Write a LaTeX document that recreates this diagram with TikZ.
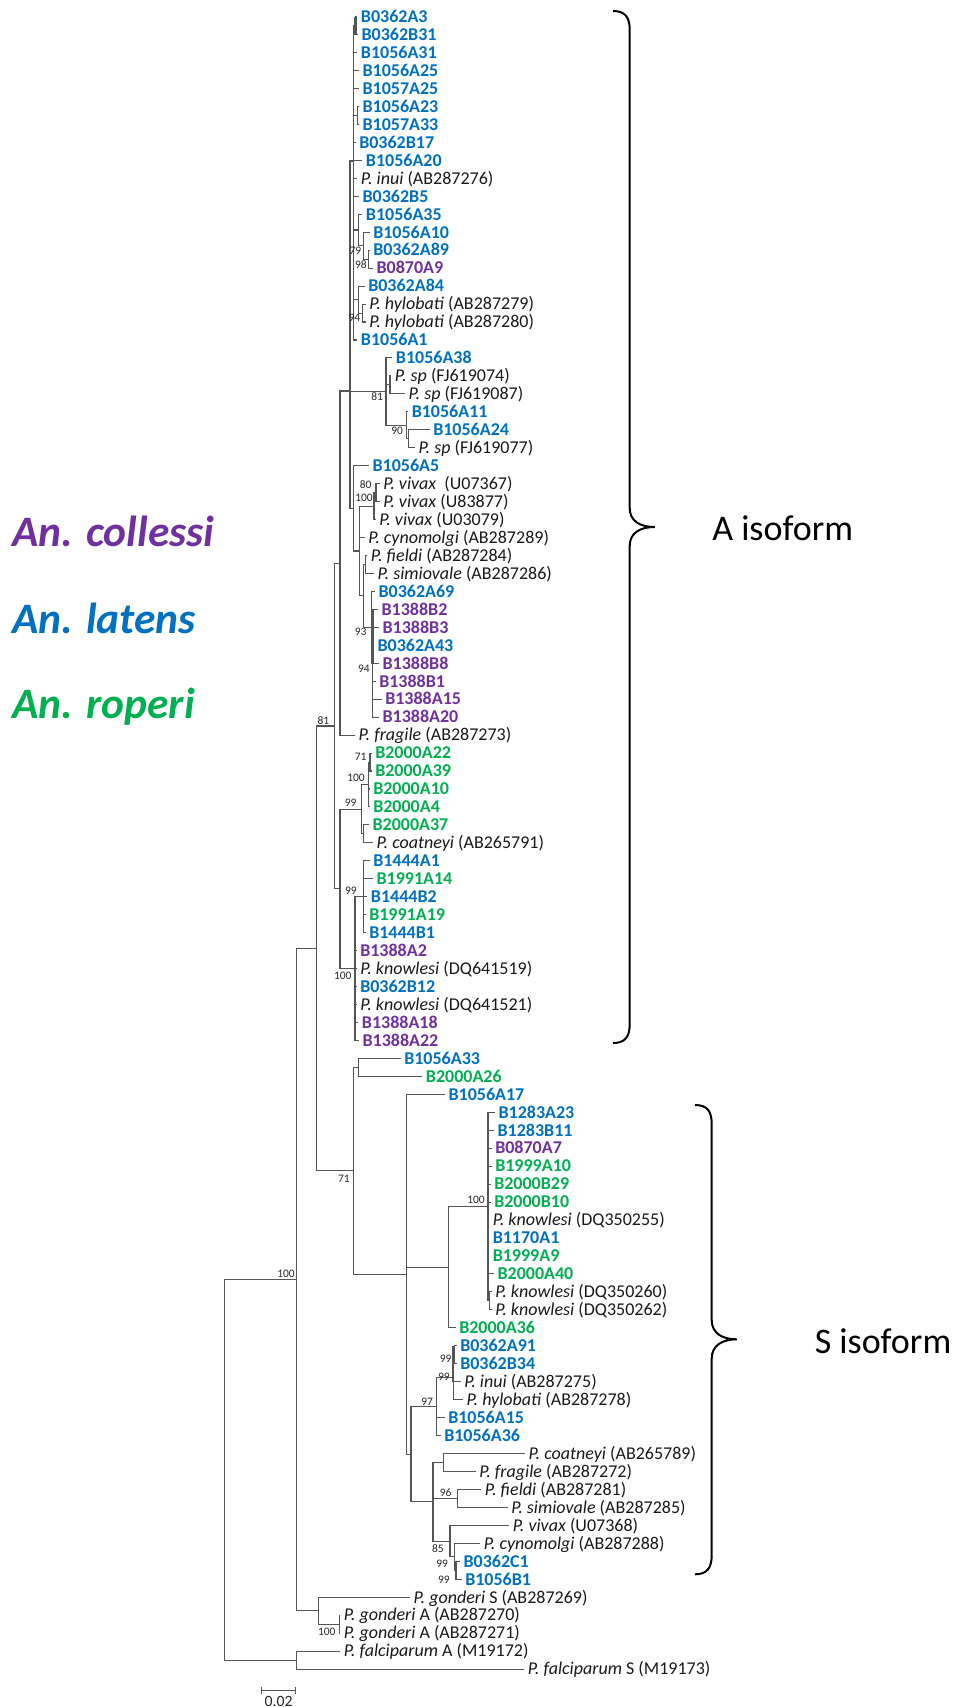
\documentclass[tikz,border=0pt]{standalone}
\usepackage{fontspec}
\setmainfont{Carlito}
\definecolor{lblue}{HTML}{0070C0}
\definecolor{lpurple}{HTML}{7030A0}
\definecolor{lgreen}{HTML}{00B050}
\definecolor{treegray}{HTML}{555555}
\newcommand{\tip}[5]{%
  \coordinate (#1) at (#3,{16.7+17.96*(#2-1)});
  \node[#4] (#1l) at ({#3+3.5},{22.5+17.96*(#2-1)}) {#5};}
\newcommand{\edges}[2]{\foreach \c in {#2} {\draw[br] (#1) |- (\c);}}
\newcommand{\boot}[4]{\node[bs] (#1) at (#2,#3) {#4};}
\tikzset{
  br/.style={draw=treegray, line width=0.8pt},
  thickbar/.style={draw=treegray, line width=1.7pt},
  tb/.style={anchor=base west, inner sep=0pt, text=lblue, font=\fontsize{13.5}{16}\selectfont\bfseries},
  tp/.style={anchor=base west, inner sep=0pt, text=lpurple, font=\fontsize{13.5}{16}\selectfont\bfseries},
  tg/.style={anchor=base west, inner sep=0pt, text=lgreen, font=\fontsize{13.5}{16}\selectfont\bfseries},
  ts/.style={anchor=base west, inner sep=0pt, text=black!90, font=\fontsize{13.5}{16}\selectfont},
  bs/.style={anchor=east, inner sep=0pt, text=black!85, font=\fontsize{8.6}{10}\selectfont},
  bracestyle/.style={draw=black, line width=1.5pt},
  isolab/.style={anchor=base west, inner sep=0pt, font=\fontsize{27}{32}\selectfont},
  legend/.style={anchor=base west, inner sep=0pt, font=\fontsize{32.6}{38}\selectfont\bfseries\itshape},
}
\begin{document}
\begin{tikzpicture}[x=0.75pt,y=-0.75pt]
\useasboundingbox (0,0) rectangle (961,1707);
% ---------- tips ----------
\tip{t1}{1}{357.2}{tb}{B0362A3}
\tip{t2}{2}{357.8}{tb}{B0362B31}
\tip{t3}{3}{357.2}{tb}{B1056A31}
\tip{t4}{4}{358.8}{tb}{B1056A25}
\tip{t5}{5}{358.8}{tb}{B1057A25}
\tip{t6}{6}{358.8}{tb}{B1056A23}
\tip{t7}{7}{358.8}{tb}{B1057A33}
\tip{t8}{8}{355.5}{tb}{B0362B17}
\tip{t9}{9}{362.2}{tb}{B1056A20}
\tip{t10}{10}{357.2}{ts}{\textit{P. inui} (AB287276)}
\tip{t11}{11}{358.8}{tb}{B0362B5}
\tip{t12}{12}{362.2}{tb}{B1056A35}
\tip{t13}{13}{369.5}{tb}{B1056A10}
\tip{t14}{14}{369.5}{tb}{B0362A89}
\tip{t15}{15}{372.8}{tp}{B0870A9}
\tip{t16}{16}{364.5}{tb}{B0362A84}
\tip{t17}{17}{365.5}{ts}{\textit{P. hylobati} (AB287279)}
\tip{t18}{18}{365.5}{ts}{\textit{P. hylobati} (AB287280)}
\tip{t19}{19}{357.2}{tb}{B1056A1}
\tip{t20}{20}{392.2}{tb}{B1056A38}
\tip{t21}{21}{391.2}{ts}{\textit{P. sp} (FJ619074)}
\tip{t22}{22}{404.8}{ts}{\textit{P. sp} (FJ619087)}
\tip{t23}{23}{408}{tb}{B1056A11}
\tip{t24}{24}{429.5}{tb}{B1056A24}
\tip{t25}{25}{414.8}{ts}{\textit{P. sp} (FJ619077)}
\tip{t26}{26}{368.8}{tb}{B1056A5}
\tip{t27}{27}{379.5}{ts}{\textit{P. vivax}\ \ (U07367)}
\tip{t28}{28}{379.5}{ts}{\textit{P. vivax} (U83877)}
\tip{t29}{29}{375.5}{ts}{\textit{P. vivax} (U03079)}
\tip{t30}{30}{364.5}{ts}{\textit{P. cynomolgi} (AB287289)}
\tip{t31}{31}{367.2}{ts}{\textit{P. fieldi} (AB287284)}
\tip{t32}{32}{373.8}{ts}{\textit{P. simiovale} (AB287286)}
\tip{t33}{33}{374.8}{tb}{B0362A69}
\tip{t34}{34}{377.8}{tp}{B1388B2}
\tip{t35}{35}{378.8}{tp}{B1388B3}
\tip{t36}{36}{373.8}{tb}{B0362A43}
\tip{t37}{37}{378.8}{tp}{B1388B8}
\tip{t38}{38}{375.5}{tp}{B1388B1}
\tip{t39}{39}{381.5}{tp}{B1388A15}
\tip{t40}{40}{378.8}{tp}{B1388A20}
\tip{t41}{41}{354.8}{ts}{\textit{P. fragile} (AB287273)}
\tip{t42}{42}{371.5}{tg}{B2000A22}
\tip{t43}{43}{371.5}{tg}{B2000A39}
\tip{t44}{44}{369.5}{tg}{B2000A10}
\tip{t45}{45}{369.5}{tg}{B2000A4}
\tip{t46}{46}{368.8}{tg}{B2000A37}
\tip{t47}{47}{372.8}{ts}{\textit{P. coatneyi} (AB265791)}
\tip{t48}{48}{369.5}{tb}{B1444A1}
\tip{t49}{49}{372.8}{tg}{B1991A14}
\tip{t50}{50}{367.2}{tb}{B1444B2}
\tip{t51}{51}{365.5}{tg}{B1991A19}
\tip{t52}{52}{365.5}{tb}{B1444B1}
\tip{t53}{53}{356.5}{tp}{B1388A2}
\tip{t54}{54}{356.5}{ts}{\textit{P. knowlesi} (DQ641519)}
\tip{t55}{55}{356.5}{tb}{B0362B12}
\tip{t56}{56}{356.5}{ts}{\textit{P. knowlesi} (DQ641521)}
\tip{t57}{57}{358.2}{tp}{B1388A18}
\tip{t58}{58}{358.8}{tp}{B1388A22}
\tip{t59}{59}{400.5}{tb}{B1056A33}
\tip{t60}{60}{422.2}{tg}{B2000A26}
\tip{t61}{61}{444.8}{tb}{B1056A17}
\tip{t62}{62}{494.8}{tb}{B1283A23}
\tip{t63}{63}{493.8}{tb}{B1283B11}
\tip{t64}{64}{491.5}{tp}{B0870A7}
\tip{t65}{65}{491.5}{tg}{B1999A10}
\tip{t66}{66}{490.5}{tg}{B2000B29}
\tip{t67}{67}{490.5}{tg}{B2000B10}
\tip{t68}{68}{489}{ts}{\textit{P. knowlesi} (DQ350255)}
\tip{t69}{69}{489}{tb}{B1170A1}
\tip{t70}{70}{489}{tg}{B1999A9}
\tip{t71}{71}{493.8}{tg}{B2000A40}
\tip{t72}{72}{491.5}{ts}{\textit{P. knowlesi} (DQ350260)}
\tip{t73}{73}{491.5}{ts}{\textit{P. knowlesi} (DQ350262)}
\tip{t74}{74}{455.5}{tg}{B2000A36}
\tip{t75}{75}{456.5}{tb}{B0362A91}
\tip{t76}{76}{456.5}{tb}{B0362B34}
\tip{t77}{77}{460.5}{ts}{\textit{P. inui} (AB287275)}
\tip{t78}{78}{462.8}{ts}{\textit{P. hylobati} (AB287278)}
\tip{t79}{79}{444.5}{tb}{B1056A15}
\tip{t80}{80}{440.5}{tb}{B1056A36}
\tip{t81}{81}{524.8}{ts}{\textit{P. coatneyi} (AB265789)}
\tip{t82}{82}{475.5}{ts}{\textit{P. fragile} (AB287272)}
\tip{t83}{83}{481.2}{ts}{\textit{P. fieldi} (AB287281)}
\tip{t84}{84}{507.5}{ts}{\textit{P. simiovale} (AB287285)}
\tip{t85}{85}{509.1}{ts}{\textit{P. vivax} (U07368)}
\tip{t86}{86}{480.1}{ts}{\textit{P. cynomolgi} (AB287288)}
\tip{t87}{87}{459.8}{tb}{B0362C1}
\tip{t88}{88}{461.5}{tb}{B1056B1}
\tip{t89}{89}{409.8}{ts}{\textit{P. gonderi} S (AB287269)}
\tip{t90}{90}{340.1}{ts}{\textit{P. gonderi} A (AB287270)}
\tip{t91}{91}{340.1}{ts}{\textit{P. gonderi} A (AB287271)}
\tip{t92}{92}{340.1}{ts}{\textit{P. falciparum} A (M19172)}
\tip{t93}{93}{524.1}{ts}{\textit{P. falciparum} S (M19173)}
% ---------- internal nodes ----------
\coordinate (n12) at (355.5,25.68);
\coordinate (n67) at (357.3,115.48);
\coordinate (n98) at (368.3,259.16);
\coordinate (n79) at (363.3,245.69);
\coordinate (nA) at (358.3,229.98);
\coordinate (n94a) at (362.7,313.04);
\coordinate (nB) at (358.3,299.57);
\coordinate (Ntop) at (353.3,161);
\coordinate (n2122) at (390,384.88);
\coordinate (n2425) at (408.3,438.76);
\coordinate (n90) at (406.7,425.29);
\coordinate (n81a) at (386,391.6);
\coordinate (n80) at (376,492.64);
\coordinate (n100v) at (374,506.11);
\coordinate (nfs) at (365.5,564.48);
\coordinate (n94b) at (372.5,663.26);
\coordinate (n93) at (371.7,627.34);
\coordinate (nG) at (363.3,595.91);
\coordinate (nV) at (359.3,551.01);
\coordinate (nW) at (353.3,508.36);
\coordinate (nX) at (350,391);
\coordinate (P1) at (340,563.05);
\coordinate (n71a) at (370,762.04);
\coordinate (n100b) at (368.3,784.49);
\coordinate (ncoat) at (363.3,833.88);
\coordinate (n99a) at (361.7,809.19);
\coordinate (n99b) at (363.3,896.74);
\coordinate (n100c) at (355,968.58);
\coordinate (P2) at (340,888.89);
\coordinate (n81b) at (334.3,725.97);
\coordinate (n5960) at (358.3,1067.36);
\coordinate (n7273) at (489.3,1300.84);
\coordinate (n100s) at (488,1206.55);
\coordinate (nks) at (448.3,1267.17);
\coordinate (n7576) at (454.3,1354.72);
\coordinate (nU) at (453.3,1377.17);
\coordinate (n97) at (436.7,1406.36);
\coordinate (ncf) at (443.3,1462.48);
\coordinate (n96) at (457.9,1498.40);
\coordinate (n8788) at (456,1570.24);
\coordinate (ncy) at (454.3,1556.77);
\coordinate (n85) at (450,1541.06);
\coordinate (nC) at (433,1501.77);
\coordinate (nBs) at (411,1454.07);
\coordinate (nS) at (406.7,1274.19);
\coordinate (n71s) at (353.3,1170.78);
\coordinate (n316) at (316.7,948.37);
\coordinate (ngA) at (339.3,1624.12);
\coordinate (ng) at (318.9,1610.65);
\coordinate (n100r) at (296.7,1279.51);
\coordinate (nfal) at (296.4,1660.04);
\coordinate (root) at (224.3,1469.78);
% ---------- branches ----------
\edges{n12}{t1,t2}
\edges{Ntop}{n12,t3,t4,t5,n67,t8,t9,t10,t11,nA,nB,t19}
\edges{n67}{t6,t7}
\edges{nA}{t12,n79}
\edges{n79}{t13,n98}
\edges{n98}{t14,t15}
\edges{nB}{t16,n94a}
\edges{n94a}{t17,t18}
\edges{n81a}{t20,n2122,n90}
\edges{n2122}{t21,t22}
\edges{n90}{t23,n2425}
\edges{n2425}{t24,t25}
\edges{nX}{Ntop,n81a,nW}
\edges{nW}{t26,nV}
\edges{nV}{n100v,t30,nG}
\edges{n100v}{n80,t29}
\edges{n80}{t27,t28}
\edges{nG}{nfs,n93}
\edges{nfs}{t31,t32}
\edges{n93}{t33,n94b}
\edges{n94b}{t34,t35,t36,t37,t38,t39,t40}
\edges{P1}{nX,t41}
\edges{n71a}{t42,t43}
\edges{n100b}{n71a,t44,t45}
\edges{ncoat}{t46,t47}
\edges{n99a}{n100b,ncoat}
\edges{n99b}{t48,t49,t50,t51,t52}
\edges{n100c}{n99b,t53,t54,t55,t56,t57,t58}
\edges{P2}{n99a,n100c}
\edges{n81b}{P1,P2}
\edges{n5960}{t59,t60}
\edges{n100s}{t62,t63,t64,t65,t66,t67,t68,t69,t70,t71,n7273}
\edges{n7273}{t72,t73}
\edges{nks}{n100s,t74}
\edges{n7576}{t75,t76}
\edges{nU}{n7576,t77,t78}
\edges{n97}{nU,t79,t80}
\edges{ncf}{t81,t82}
\edges{n96}{t83,t84}
\edges{n8788}{t87,t88}
\edges{ncy}{t86,n8788}
\edges{n85}{t85,ncy}
\edges{nC}{ncf,n96,n85}
\edges{nBs}{n97,nC}
\edges{nS}{t61,nks,nBs}
\edges{n71s}{n5960,nS}
\edges{n316}{n81b,n71s}
\edges{ngA}{t90,t91}
\edges{ng}{t89,ngA}
\edges{n100r}{n316,ng}
\edges{nfal}{t92,t93}
\edges{root}{n100r,nfal}
% thick bars of stacked tiny nodes
\draw[thickbar] (n12 |- t1) -- (n12 |- t2);
\draw[thickbar] ([xshift=0.4pt]n94b |- t34) -- ([xshift=0.4pt]n94b |- t37);
\draw[thickbar] (nU |- t75) -- (nU |- t77);
% ---------- bootstrap values ----------
\boot{b1}{361.5}{251}{79}
\boot{b2}{367}{265}{98}
\boot{b3}{360.5}{317.7}{94}
\boot{b4}{383.3}{397}{81}
\boot{b5}{403.3}{431}{90}
\boot{b6}{371.7}{485}{80}
\boot{b7}{373}{498}{100}
\boot{b8}{366.7}{632}{93}
\boot{b9}{370}{668.5}{94}
\boot{b10}{329.5}{720.5}{81}
\boot{b11}{366.7}{756.5}{71}
\boot{b12}{365}{778}{100}
\boot{b13}{356.7}{802.7}{99}
\boot{b14}{357}{891}{99}
\boot{b15}{351.7}{975.7}{100}
\boot{b16}{350}{1179}{71}
\boot{b17}{485}{1200}{100}
\boot{b18}{451.7}{1358.3}{99}
\boot{b19}{450}{1376.7}{99}
\boot{b20}{433.3}{1401.7}{97}
\boot{b21}{451.8}{1492.3}{96}
\boot{b22}{443.9}{1549}{85}
\boot{b23}{448.2}{1564}{99}
\boot{b24}{450}{1579.3}{99}
\boot{b25}{295}{1274}{100}
\boot{b26}{335.7}{1631.7}{100}
% ---------- scale bar ----------
\coordinate (sbl) at (261.4,1690.7);
\coordinate (sbr) at (295.7,1690.7);
\draw[br] (sbl) -- (sbr);
\draw[br] ([yshift=2.6pt]sbl) -- ([yshift=-2.6pt]sbl);
\draw[br] ([yshift=2.6pt]sbr) -- ([yshift=-2.6pt]sbr);
\node[anchor=base, inner sep=0pt, font=\fontsize{11.8}{14}\selectfont, text=black!85] (sbt) at (278.6,1706) {0.02};
% ---------- braces ----------
\draw[bracestyle] (613,11) .. controls (625,11) and (629.7,17) .. (629.7,30)
  -- (629.7,508) .. controls (629.7,521) and (640,527) .. (654.7,527)
  .. controls (640,527) and (629.7,533) .. (629.7,546)
  -- (629.7,1024) .. controls (629.7,1037) and (625,1043) .. (613,1043);
\draw[bracestyle] (695,1105) .. controls (707,1105) and (711.7,1111) .. (711.7,1124)
  -- (711.7,1320) .. controls (711.7,1333) and (722,1339.3) .. (736.7,1339.3)
  .. controls (722,1339.3) and (711.7,1345.6) .. (711.7,1358.6)
  -- (711.7,1555) .. controls (711.7,1568) and (707,1574.3) .. (695,1574.3);
\node[isolab] (aiso) at (712,540) {A isoform};
\node[isolab] (siso) at (814.5,1353.3) {S isoform};
% ---------- legend ----------
\node[legend, text=lpurple] (lc) at (12,546) {An. collessi};
\node[legend, text=lblue] (ll) at (12,633) {An. latens};
\node[legend, text=lgreen] (lr) at (12,718) {An. roperi};
\end{tikzpicture}
\end{document}
